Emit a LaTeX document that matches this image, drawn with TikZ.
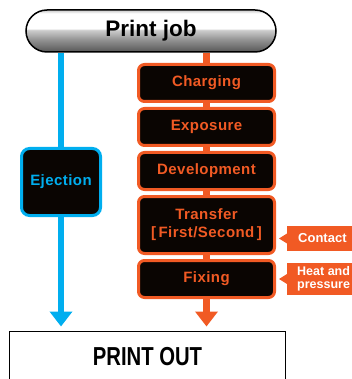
\documentclass[tikz,border=0pt]{standalone}
\usepackage{fontspec}
\setmainfont{Liberation Sans}
\usepackage{graphicx}
\usetikzlibrary{arrows.meta,positioning}
\definecolor{Ink}{HTML}{0A0502}
\definecolor{Flow}{HTML}{F15A24}
\definecolor{Side}{HTML}{00AEEF}
\pgfdeclareverticalshading{pillshade}{100bp}{color(0bp)=(black!66);color(25bp)=(black!66);color(40bp)=(black!42);color(51bp)=(black!20);color(53bp)=(white);color(71bp)=(white);color(75bp)=(black!22);color(100bp)=(black!22)}

\begin{document}
\begin{tikzpicture}[
 node distance=4pt,
 pill/.style={draw=black,line width=1.5pt,rounded corners=21pt,shade,shading=pillshade,minimum width=250pt,minimum height=42pt,font=\fontsize{22.5}{24}\selectfont\bfseries},
 stage/.style={draw=Flow,line width=3pt,fill=Ink,rounded corners=6pt,minimum width=136pt,minimum height=37pt,align=center,text=Flow,font=\fontsize{15}{18}\selectfont\bfseries\addfontfeature{LetterSpace=3}},
 side/.style={draw=Side,line width=3pt,fill=Ink,rounded corners=8pt,minimum width=79pt,minimum height=67pt,text=Side,font=\fontsize{15}{18}\selectfont\bfseries\addfontfeature{LetterSpace=3}},
 tag/.style={fill=Flow,text=white,anchor=west,align=left,inner xsep=11pt,inner ysep=0pt,font=\fontsize{13}{12}\selectfont\bfseries},
 outbox/.style={draw=black,line width=1pt,fill=white,minimum width=276pt,minimum height=51pt},
 flowline/.style={draw=Flow,line width=7pt},
 sideline/.style={draw=Side,line width=6pt},
 tip/.style={-{Triangle[width=22pt,length=15pt]},shorten >=4pt}
]
\useasboundingbox (0,0) rectangle (351pt,-379pt);
\node[pill] (job) at (151pt,-31pt) {Print job};
\node[stage] (charge) at (206.5pt,-83pt) {Charging};
\node[stage,below=of charge] (expo) {Exposure};
\node[stage,below=of expo] (dev) {Development};
\node[stage,below=of dev,minimum height=57pt] (transfer) {Transfer\\{[}\,First/Second\,{]}};
\node[stage,below=of transfer] (fix) {Fixing};
\node[side] (eject) at (61pt,-182pt) {Ejection};
\node[outbox] (out) at (147.5pt,-356.5pt) {\scalebox{0.78}[1]{\fontsize{26}{28}\selectfont\bfseries PRINT OUT}};
\node[tag,minimum height=25pt] (contact) at ([xshift=11pt,yshift=-13.5pt]transfer.east) {Contact\hspace{8pt}};
\node[tag,minimum height=32pt,inner xsep=10pt,font=\fontsize{12.5}{12.5}\selectfont\bfseries] (heat) at ([xshift=11pt]fix.east) {Heat and\\pressure};
\foreach \t in {contact,heat} \fill[Flow] (\t.west) ++(0,5pt) -- ++(-8pt,-5pt) -- ++(8pt,-5pt) -- cycle;
\draw[sideline] (job.south -| eject.north) -- (eject.north);
\draw[sideline,tip] (eject.south) -- (out.north -| eject.south);
\draw[flowline] (job.south -| charge.north) -- (charge.north);
\foreach \a/\b in {charge/expo,expo/dev,dev/transfer,transfer/fix} \draw[flowline] (\a) -- (\b);
\draw[flowline,tip] (fix) -- (out.north -| fix.south);
\end{tikzpicture}
\end{document}
